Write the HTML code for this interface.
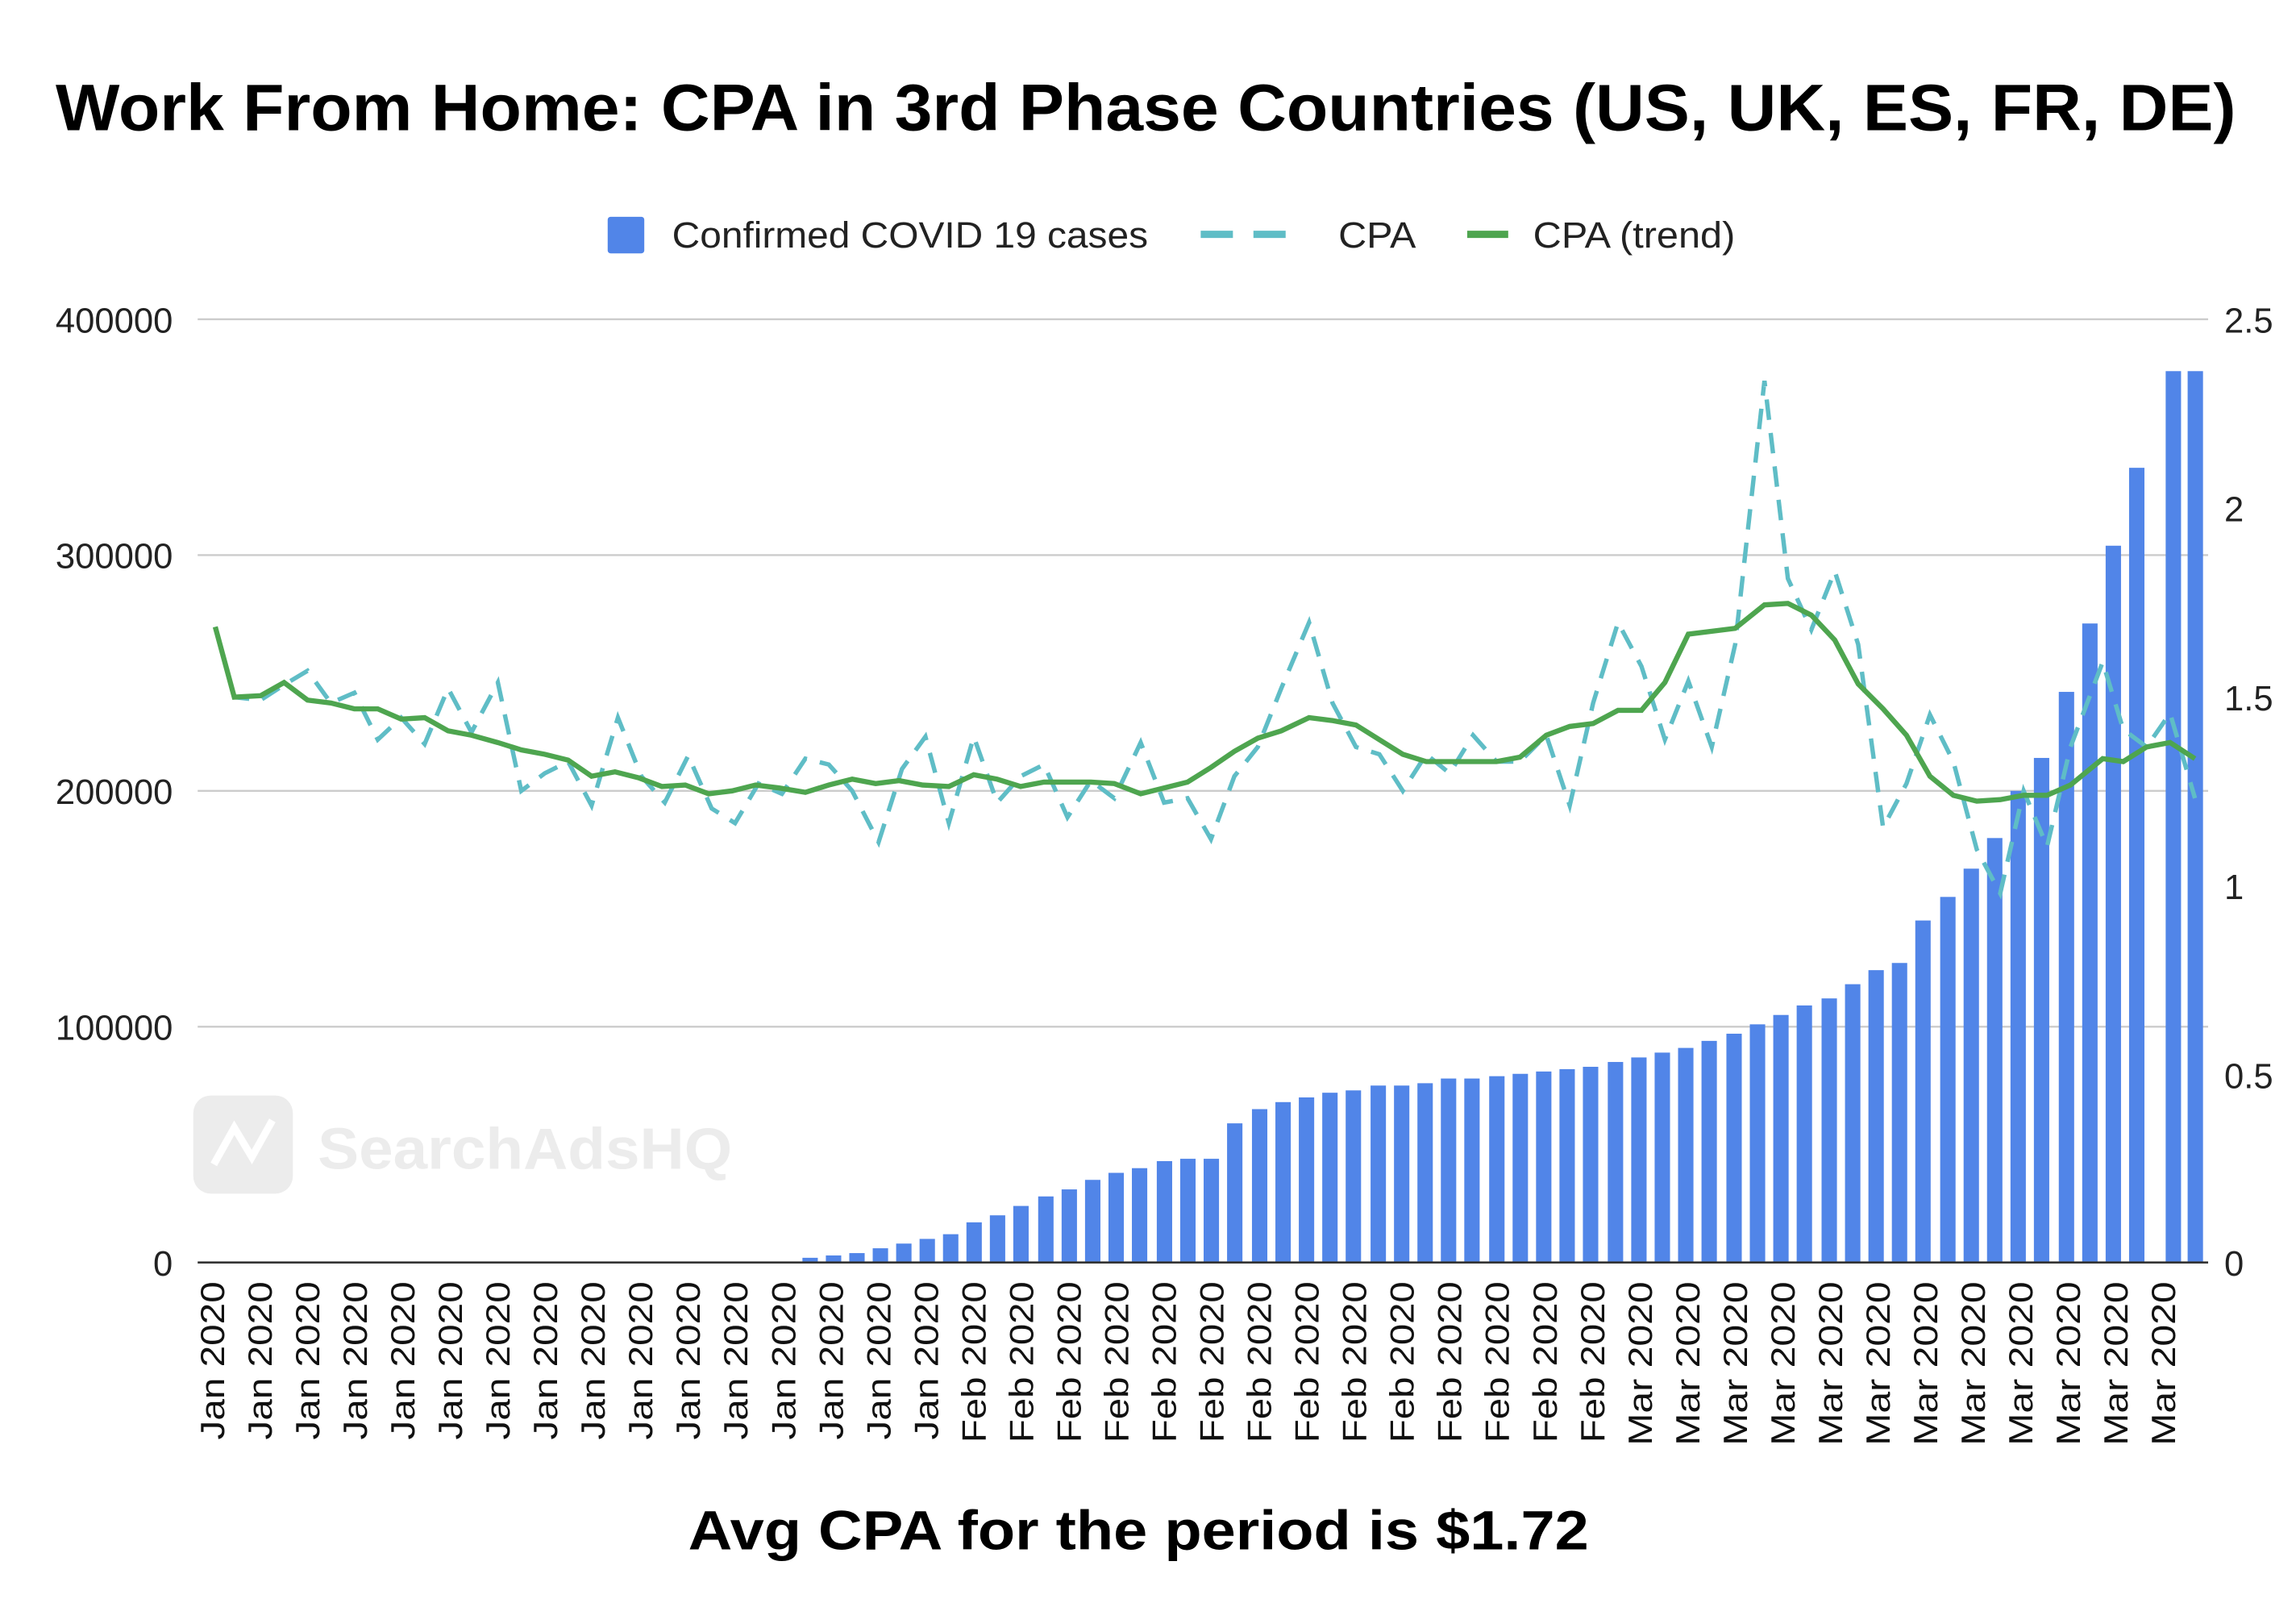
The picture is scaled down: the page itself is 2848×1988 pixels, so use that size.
<!DOCTYPE html>
<html><head><meta charset="utf-8"><style>
html,body{margin:0;padding:0;background:#fff}
svg{display:block}
text{font-family:"Liberation Sans",Arial,sans-serif}
</style></head><body>
<svg width="2848" height="1988" viewBox="0 0 1568 1094.5" xmlns="http://www.w3.org/2000/svg">
<rect width="1568" height="1094.5" fill="#fff"/>
<text x="38" y="89" font-size="45" font-weight="bold" fill="#000" textLength="1489" lengthAdjust="spacingAndGlyphs">Work From Home: CPA in 3rd Phase Countries (US, UK, ES, FR, DE)</text>
<!-- legend -->
<rect x="415" y="148" width="25" height="25" rx="2" fill="#5185e8"/>
<text x="459" y="169" font-size="25" fill="#222" textLength="325" lengthAdjust="spacingAndGlyphs">Confirmed COVID 19 cases</text>
<line x1="820" y1="160" x2="880" y2="160" stroke="#5fbdc6" stroke-width="5" stroke-dasharray="22,14"/>
<text x="914" y="169" font-size="25" fill="#222" textLength="53" lengthAdjust="spacingAndGlyphs">CPA</text>
<line x1="1002" y1="160" x2="1030" y2="160" stroke="#4ea54f" stroke-width="5"/>
<text x="1047" y="169" font-size="25" fill="#222" textLength="138" lengthAdjust="spacingAndGlyphs">CPA (trend)</text>
<!-- grid -->
<g stroke="#ccc" stroke-width="1.3">
<line x1="135" y1="218" x2="1508" y2="218"/><line x1="135" y1="379" x2="1508" y2="379"/>
<line x1="135" y1="540" x2="1508" y2="540"/><line x1="135" y1="701" x2="1508" y2="701"/>
</g>
<g font-size="24" fill="#222" text-anchor="end">
<text x="118" y="227">400000</text><text x="118" y="388">300000</text><text x="118" y="549">200000</text><text x="118" y="710">100000</text><text x="118" y="871">0</text>
</g>
<g font-size="24" fill="#222">
<text x="1519" y="227">2.5</text><text x="1519" y="356">2</text><text x="1519" y="485">1.5</text><text x="1519" y="614">1</text><text x="1519" y="743">0.5</text><text x="1519" y="871">0</text>
</g>
<!-- watermark -->
<rect x="132" y="748" width="68" height="67" rx="12" fill="#ececec"/>
<polyline points="146,795 160,770 172,790 186,765" fill="none" stroke="#fff" stroke-width="5"/>
<text x="217" y="798" font-size="40" font-weight="bold" fill="#ececec" textLength="283" lengthAdjust="spacingAndGlyphs">SearchAdsHQ</text>
<!-- bars -->
<g fill="#5185e8">
<rect x="548" y="858.8" width="10.5" height="3.2"/><rect x="564" y="857.2" width="10.5" height="4.8"/><rect x="580" y="855.6" width="10.5" height="6.4"/><rect x="596" y="852.3" width="10.5" height="9.7"/><rect x="612" y="849.1" width="10.5" height="12.9"/><rect x="628" y="845.9" width="10.5" height="16.1"/><rect x="644" y="842.7" width="10.5" height="19.3"/><rect x="660" y="834.6" width="10.5" height="27.4"/><rect x="676" y="829.8" width="10.5" height="32.2"/><rect x="692" y="823.4" width="10.5" height="38.6"/><rect x="709" y="816.9" width="10.5" height="45.1"/><rect x="725" y="812.1" width="10.5" height="49.9"/><rect x="741" y="805.6" width="10.5" height="56.4"/><rect x="757" y="800.8" width="10.5" height="61.2"/><rect x="773" y="797.6" width="10.5" height="64.4"/><rect x="790" y="792.8" width="10.5" height="69.2"/><rect x="806" y="791.2" width="10.5" height="70.8"/><rect x="822" y="791.2" width="10.5" height="70.8"/><rect x="838" y="767" width="10.5" height="95"/><rect x="855" y="757.3" width="10.5" height="104.7"/><rect x="871" y="752.5" width="10.5" height="109.5"/><rect x="887" y="749.3" width="10.5" height="112.7"/><rect x="903" y="746.1" width="10.5" height="115.9"/><rect x="919" y="744.5" width="10.5" height="117.5"/><rect x="936" y="741.2" width="10.5" height="120.8"/><rect x="952" y="741.2" width="10.5" height="120.8"/><rect x="968" y="739.6" width="10.5" height="122.4"/><rect x="984" y="736.4" width="10.5" height="125.6"/><rect x="1000" y="736.4" width="10.5" height="125.6"/><rect x="1017" y="734.8" width="10.5" height="127.2"/><rect x="1033" y="733.2" width="10.5" height="128.8"/><rect x="1049" y="731.6" width="10.5" height="130.4"/><rect x="1065" y="730" width="10.5" height="132"/><rect x="1081" y="728.4" width="10.5" height="133.6"/><rect x="1098" y="725.1" width="10.5" height="136.9"/><rect x="1114" y="722" width="10.5" height="140"/><rect x="1130" y="718.7" width="10.5" height="143.3"/><rect x="1146" y="715.5" width="10.5" height="146.5"/><rect x="1162" y="710.7" width="10.5" height="151.3"/><rect x="1179" y="705.8" width="10.5" height="156.2"/><rect x="1195" y="699.4" width="10.5" height="162.6"/><rect x="1211" y="693" width="10.5" height="169"/><rect x="1227" y="686.5" width="10.5" height="175.5"/><rect x="1244" y="681.7" width="10.5" height="180.3"/><rect x="1260" y="672" width="10.5" height="190"/><rect x="1276" y="662.4" width="10.5" height="199.6"/><rect x="1292" y="657.5" width="10.5" height="204.5"/><rect x="1308" y="628.5" width="10.5" height="233.5"/><rect x="1325" y="612.4" width="10.5" height="249.6"/><rect x="1341" y="593.1" width="10.5" height="268.9"/><rect x="1357" y="572.2" width="10.5" height="289.8"/><rect x="1373" y="540" width="10.5" height="322"/><rect x="1389" y="517.5" width="10.5" height="344.5"/><rect x="1406" y="472.4" width="10.5" height="389.6"/><rect x="1422" y="425.7" width="10.5" height="436.3"/><rect x="1438" y="372.6" width="10.5" height="489.4"/><rect x="1454" y="319.4" width="10.5" height="542.6"/><rect x="1479" y="253.4" width="10.5" height="608.6"/><rect x="1494" y="253.4" width="10.5" height="608.6"/>
</g>
<line x1="135" y1="862" x2="1508" y2="862" stroke="#333" stroke-width="1.5"/>
<!-- CPA dashed -->
<polyline fill="none" stroke="#5fbdc6" stroke-width="3" stroke-dasharray="14,9" points="147,428 160,476 178,478 195,467 210,458 226,480 242,473 258,505 274,490 290,508 306,470 322,500 340,466 356,540 372,528 388,520 404,550 422,490 438,530 454,548 470,516 486,552 502,562 518,535 534,542 550,518 566,522 582,540 600,575 616,525 632,503 648,562 665,503 681,548 697,530 713,522 729,558 745,533 761,545 779,507 795,548 811,545 827,573 843,530 859,510 875,470 894,425 910,480 926,510 942,515 958,540 974,515 990,528 1006,502 1022,520 1038,520 1056,502 1072,550 1088,480 1105,425 1121,455 1137,505 1153,465 1169,510 1185,440 1205,260 1221,395 1237,430 1253,390 1269,440 1286,565 1302,535 1318,488 1334,520 1350,580 1366,610 1382,540 1398,578 1414,510 1436,452 1450,498 1466,510 1482,487 1499,545"/>
<!-- trend -->
<polyline fill="none" stroke="#4ea54f" stroke-width="3.5" points="147,428 160,476 178,475 194,466 210,478 226,480 242,484 258,484 274,491 290,490 306,499 322,502 340,507 356,512 372,515 388,519 404,530 420,527 436,531 452,537 468,536 484,542 500,540 516,536 532,538 550,541 566,536 582,532 598,535 614,533 630,536 648,537 665,529 681,532 697,537 713,534 729,534 745,534 761,535 779,542 795,538 811,534 827,524 843,513 859,504 875,499 894,490 910,492 926,495 942,505 958,515 974,520 990,520 1006,520 1022,520 1038,517 1056,502 1072,496 1088,494 1105,485 1121,485 1137,466 1153,433 1169,431 1185,429 1205,413 1221,412 1237,420 1253,437 1269,467 1286,484 1302,502 1318,530 1334,543 1350,547 1366,546 1382,543 1398,543 1414,536 1436,518 1450,520 1466,510 1482,507 1499,518"/>
<!-- x labels -->
<g font-size="23" fill="#111" text-anchor="end">
<text transform="translate(153,875) rotate(-90)" textLength="108" lengthAdjust="spacingAndGlyphs">Jan 2020</text>
<text transform="translate(185.5,875) rotate(-90)" textLength="108" lengthAdjust="spacingAndGlyphs">Jan 2020</text>
<text transform="translate(218,875) rotate(-90)" textLength="108" lengthAdjust="spacingAndGlyphs">Jan 2020</text>
<text transform="translate(250.5,875) rotate(-90)" textLength="108" lengthAdjust="spacingAndGlyphs">Jan 2020</text>
<text transform="translate(283,875) rotate(-90)" textLength="108" lengthAdjust="spacingAndGlyphs">Jan 2020</text>
<text transform="translate(315.5,875) rotate(-90)" textLength="108" lengthAdjust="spacingAndGlyphs">Jan 2020</text>
<text transform="translate(348,875) rotate(-90)" textLength="108" lengthAdjust="spacingAndGlyphs">Jan 2020</text>
<text transform="translate(380.5,875) rotate(-90)" textLength="108" lengthAdjust="spacingAndGlyphs">Jan 2020</text>
<text transform="translate(413,875) rotate(-90)" textLength="108" lengthAdjust="spacingAndGlyphs">Jan 2020</text>
<text transform="translate(445.5,875) rotate(-90)" textLength="108" lengthAdjust="spacingAndGlyphs">Jan 2020</text>
<text transform="translate(478,875) rotate(-90)" textLength="108" lengthAdjust="spacingAndGlyphs">Jan 2020</text>
<text transform="translate(510.5,875) rotate(-90)" textLength="108" lengthAdjust="spacingAndGlyphs">Jan 2020</text>
<text transform="translate(543,875) rotate(-90)" textLength="108" lengthAdjust="spacingAndGlyphs">Jan 2020</text>
<text transform="translate(575.5,875) rotate(-90)" textLength="108" lengthAdjust="spacingAndGlyphs">Jan 2020</text>
<text transform="translate(608,875) rotate(-90)" textLength="108" lengthAdjust="spacingAndGlyphs">Jan 2020</text>
<text transform="translate(640.5,875) rotate(-90)" textLength="108" lengthAdjust="spacingAndGlyphs">Jan 2020</text>
<text transform="translate(673,875) rotate(-90)" textLength="110" lengthAdjust="spacingAndGlyphs">Feb 2020</text>
<text transform="translate(705.5,875) rotate(-90)" textLength="110" lengthAdjust="spacingAndGlyphs">Feb 2020</text>
<text transform="translate(738,875) rotate(-90)" textLength="110" lengthAdjust="spacingAndGlyphs">Feb 2020</text>
<text transform="translate(770.5,875) rotate(-90)" textLength="110" lengthAdjust="spacingAndGlyphs">Feb 2020</text>
<text transform="translate(803,875) rotate(-90)" textLength="110" lengthAdjust="spacingAndGlyphs">Feb 2020</text>
<text transform="translate(835.5,875) rotate(-90)" textLength="110" lengthAdjust="spacingAndGlyphs">Feb 2020</text>
<text transform="translate(868,875) rotate(-90)" textLength="110" lengthAdjust="spacingAndGlyphs">Feb 2020</text>
<text transform="translate(900.5,875) rotate(-90)" textLength="110" lengthAdjust="spacingAndGlyphs">Feb 2020</text>
<text transform="translate(933,875) rotate(-90)" textLength="110" lengthAdjust="spacingAndGlyphs">Feb 2020</text>
<text transform="translate(965.5,875) rotate(-90)" textLength="110" lengthAdjust="spacingAndGlyphs">Feb 2020</text>
<text transform="translate(998,875) rotate(-90)" textLength="110" lengthAdjust="spacingAndGlyphs">Feb 2020</text>
<text transform="translate(1030.5,875) rotate(-90)" textLength="110" lengthAdjust="spacingAndGlyphs">Feb 2020</text>
<text transform="translate(1063,875) rotate(-90)" textLength="110" lengthAdjust="spacingAndGlyphs">Feb 2020</text>
<text transform="translate(1095.5,875) rotate(-90)" textLength="110" lengthAdjust="spacingAndGlyphs">Feb 2020</text>
<text transform="translate(1128,875) rotate(-90)" textLength="112" lengthAdjust="spacingAndGlyphs">Mar 2020</text>
<text transform="translate(1160.5,875) rotate(-90)" textLength="112" lengthAdjust="spacingAndGlyphs">Mar 2020</text>
<text transform="translate(1193,875) rotate(-90)" textLength="112" lengthAdjust="spacingAndGlyphs">Mar 2020</text>
<text transform="translate(1225.5,875) rotate(-90)" textLength="112" lengthAdjust="spacingAndGlyphs">Mar 2020</text>
<text transform="translate(1258,875) rotate(-90)" textLength="112" lengthAdjust="spacingAndGlyphs">Mar 2020</text>
<text transform="translate(1290.5,875) rotate(-90)" textLength="112" lengthAdjust="spacingAndGlyphs">Mar 2020</text>
<text transform="translate(1323,875) rotate(-90)" textLength="112" lengthAdjust="spacingAndGlyphs">Mar 2020</text>
<text transform="translate(1355.5,875) rotate(-90)" textLength="112" lengthAdjust="spacingAndGlyphs">Mar 2020</text>
<text transform="translate(1388,875) rotate(-90)" textLength="112" lengthAdjust="spacingAndGlyphs">Mar 2020</text>
<text transform="translate(1420.5,875) rotate(-90)" textLength="112" lengthAdjust="spacingAndGlyphs">Mar 2020</text>
<text transform="translate(1453,875) rotate(-90)" textLength="112" lengthAdjust="spacingAndGlyphs">Mar 2020</text>
<text transform="translate(1485.5,875) rotate(-90)" textLength="112" lengthAdjust="spacingAndGlyphs">Mar 2020</text>
</g>
<text x="470" y="1058" font-size="38" font-weight="bold" fill="#000" textLength="615" lengthAdjust="spacingAndGlyphs">Avg CPA for the period is $1.72</text>
</svg>
</body></html>
